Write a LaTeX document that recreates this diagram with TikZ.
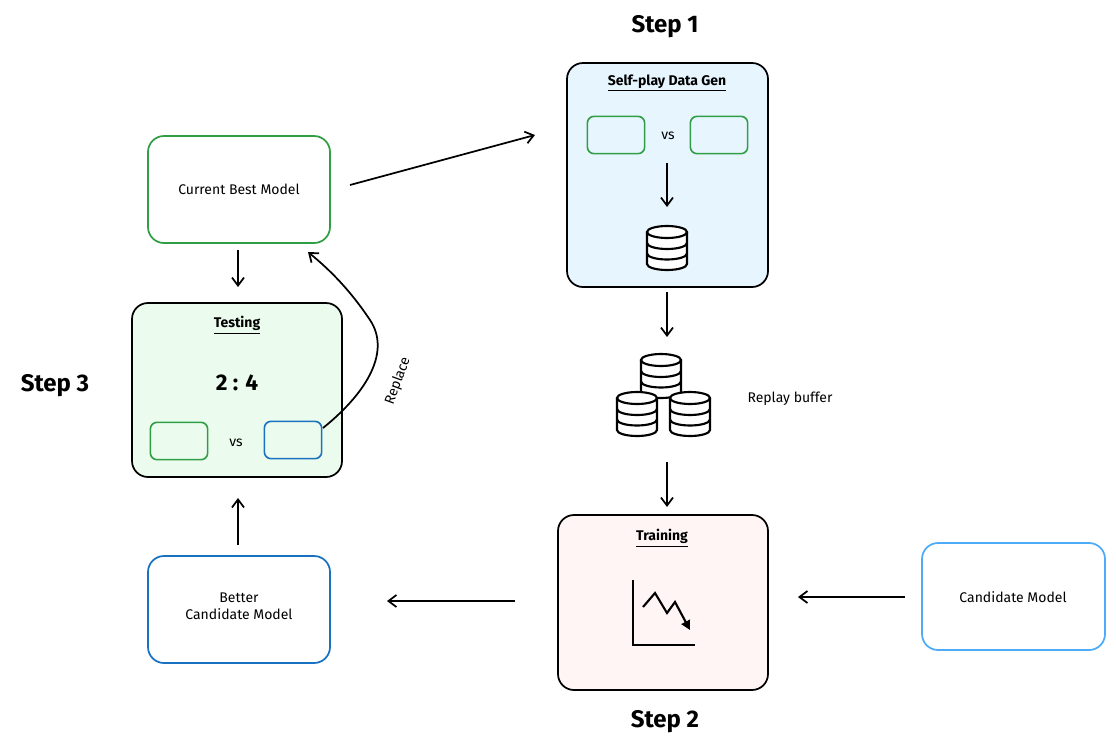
\documentclass[tikz,border=0pt]{standalone}
\usepackage{fontspec}
\setmainfont{Fira Sans}
\usetikzlibrary{arrows.meta}
\definecolor{gb}{HTML}{2F9E44}
\definecolor{bb}{HTML}{1971C2}
\definecolor{lb}{HTML}{4DABF7}
\definecolor{fblue}{HTML}{E7F5FF}
\definecolor{fgreen}{HTML}{EBFBEE}
\definecolor{fred}{HTML}{FFF5F5}
\tikzset{
 box/.style={draw, line width=1.3pt, rounded corners=12pt},
 sm/.style={draw, line width=1.2pt, rounded corners=5pt, minimum width=43pt, minimum height=28pt},
 arr/.style={-{Straight Barb[length=6pt,width=9pt]}, line width=1.3pt},
 lbl/.style={font=\fontsize{10.5}{13}\selectfont, align=center},
 steplbl/.style={font=\fontsize{18}{21}\selectfont\bfseries},
 ttl/.style={font=\fontsize{10.5}{12}\selectfont\bfseries, inner sep=1pt},
 db/.pic={
  \draw[line width=1.6pt, fill=white] (-20,-16) -- (-20,16) arc[x radius=20, y radius=6, start angle=180, end angle=0] -- (20,-16);
  \draw[line width=1.6pt, fill=white] (0,-16) ellipse[x radius=20, y radius=6];
  \draw[line width=1.6pt] (-20,-5) arc[x radius=20, y radius=6, start angle=180, end angle=0];
  \draw[line width=1.6pt] (-20,5.5) arc[x radius=20, y radius=6, start angle=180, end angle=0];
 }
}
\begin{document}
\begin{tikzpicture}[x=0.75pt,y=-0.75pt]
\useasboundingbox (0,0) rectangle (1116,750);
% Step 1
\node[steplbl] (s1) at (665,27) {Step 1};
\draw[box, fill=fblue] (567,63) rectangle (768,287);
\node[ttl] (t1) at (667,83) {\underline{Self-play Data Gen}};
\node[sm, draw=gb] (g1) at (616,135) {};
\node[sm, draw=gb] (g2) at (719,135) {};
\node[lbl] (vs1) at (668,136) {vs};
\coordinate (a1) at (667,163); \coordinate (a2) at (667,207);
\draw[arr] (a1) -- (a2);
\pic at (667,248) {db};
% Current best
\draw[box, draw=gb] (148,136) rectangle (330,243);
\node[lbl] (cbm) at (239,189) {Current Best Model};
\coordinate (c1) at (350,185); \coordinate (c2) at (535,135);
\draw[arr] (c1) -- (c2);
\coordinate (d1) at (238,250); \coordinate (d2) at (238,287);
\draw[arr] (d1) -- (d2);
% Testing
\draw[box, fill=fgreen] (132,303) rectangle (342,477);
\node[ttl] (t3) at (237,325) {\underline{Testing}};
\node[font=\fontsize{17}{19}\selectfont\bfseries] (sc) at (237,383) {2 : 4};
\node[sm, draw=gb] (tg) at (179,441) {};
\node[sm, draw=bb] (tb) at (293,440) {};
\node[lbl] (vs3) at (236,443) {vs};
\node[steplbl] (s3) at (55,386) {Step 3};
\coordinate (r1) at (323,428);
\coordinate (r2) at (308,252);
\draw[arr] (r1) .. controls (370,390) and (390,350) .. (370,320) .. controls (350,290) and (330,270) .. (r2);
\node[lbl, rotate=70] (rep) at (398,381) {Replace};
% replay buffer
\coordinate (e1) at (667,292); \coordinate (e2) at (667,337);
\draw[arr] (e1) -- (e2);
\pic at (661,376) {db};
\pic at (637,414) {db};
\pic at (690,414) {db};
\node[lbl] (rb) at (790,399) {Replay buffer};
\coordinate (f1) at (667,462); \coordinate (f2) at (667,507);
\draw[arr] (f1) -- (f2);
% Training
\draw[box, fill=fred] (558,515) rectangle (768,690);
\node[ttl] (t2) at (662,538) {\underline{Training}};
\draw[line width=1.6pt] (633,580) -- (633,645) -- (695,645);
\draw[line width=1.6pt, -{Triangle[length=7pt,width=7pt]}] (643,607) -- (655,593) -- (667,613) -- (675,602) -- (690,630);
\node[steplbl] (s2) at (665,722) {Step 2};
% Candidate
\draw[box, draw=lb] (922,543) rectangle (1105,650);
\node[lbl] (cm) at (1013,597) {Candidate Model};
\coordinate (h1) at (905,597); \coordinate (h2) at (798,597);
\draw[arr] (h1) -- (h2);
\coordinate (i1) at (515,601); \coordinate (i2) at (387,601);
\draw[arr] (i1) -- (i2);
% Better
\draw[box, draw=bb] (148,556) rectangle (330,663);
\node[lbl] (bcm) at (239,606) {Better\\Candidate Model};
\coordinate (j1) at (238,545); \coordinate (j2) at (238,498);
\draw[arr] (j1) -- (j2);
\end{tikzpicture}
\end{document}
